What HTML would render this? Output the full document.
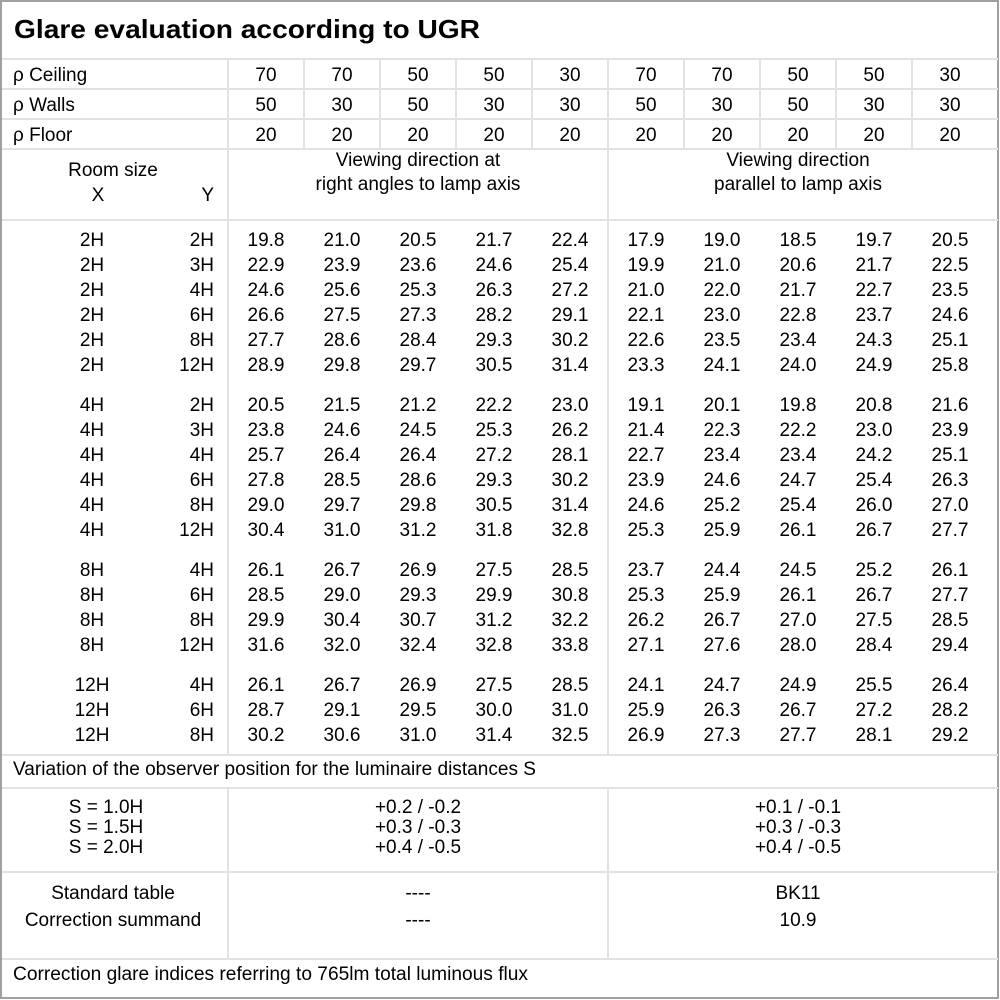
<!DOCTYPE html>
<html><head><meta charset="utf-8"><style>
html,body{margin:0;padding:0;background:#fff}
svg{display:block}
text{font-family:"Liberation Sans","DejaVu Sans",sans-serif;fill:#000}
.c{text-anchor:middle;font-size:19px}
.r{text-anchor:end;font-size:19px}
.l{font-size:19px}
</style></head><body>
<svg width="1000" height="1000" viewBox="0 0 1000 1000">
<rect x="1" y="1" width="997" height="997" fill="#fff" stroke="#a0a0a0" stroke-width="2"/>
<g stroke="#e2e2e2" stroke-width="2">
<line x1="2" y1="59" x2="998" y2="59"/>
<line x1="2" y1="89" x2="998" y2="89"/>
<line x1="2" y1="119" x2="998" y2="119"/>
<line x1="2" y1="149" x2="998" y2="149"/>
<line x1="2" y1="220" x2="998" y2="220"/>
<line x1="2" y1="755" x2="998" y2="755"/>
<line x1="2" y1="788" x2="998" y2="788"/>
<line x1="2" y1="872" x2="998" y2="872"/>
<line x1="2" y1="959" x2="998" y2="959"/>
<line x1="228" y1="59" x2="228" y2="755"/>
<line x1="228" y1="788" x2="228" y2="959"/>
<line x1="608" y1="59" x2="608" y2="755"/>
<line x1="608" y1="788" x2="608" y2="959"/>
<line x1="304" y1="59" x2="304" y2="149"/>
<line x1="380" y1="59" x2="380" y2="149"/>
<line x1="456" y1="59" x2="456" y2="149"/>
<line x1="532" y1="59" x2="532" y2="149"/>
<line x1="684" y1="59" x2="684" y2="149"/>
<line x1="760" y1="59" x2="760" y2="149"/>
<line x1="836" y1="59" x2="836" y2="149"/>
<line x1="912" y1="59" x2="912" y2="149"/>
</g>
<text x="14" y="38" style="font-size:26px;font-weight:bold" textLength="466" lengthAdjust="spacingAndGlyphs">Glare evaluation according to UGR</text>
<text class="l" x="13" y="81">ρ Ceiling</text>
<text class="l" x="13" y="111">ρ Walls</text>
<text class="l" x="13" y="141">ρ Floor</text>
<g class="c">
<text class="c" x="266" y="81">70</text><text class="c" x="342" y="81">70</text><text class="c" x="418" y="81">50</text><text class="c" x="494" y="81">50</text><text class="c" x="570" y="81">30</text><text class="c" x="646" y="81">70</text><text class="c" x="722" y="81">70</text><text class="c" x="798" y="81">50</text><text class="c" x="874" y="81">50</text><text class="c" x="950" y="81">30</text>
<text class="c" x="266" y="111">50</text><text class="c" x="342" y="111">30</text><text class="c" x="418" y="111">50</text><text class="c" x="494" y="111">30</text><text class="c" x="570" y="111">30</text><text class="c" x="646" y="111">50</text><text class="c" x="722" y="111">30</text><text class="c" x="798" y="111">50</text><text class="c" x="874" y="111">30</text><text class="c" x="950" y="111">30</text>
<text class="c" x="266" y="141">20</text><text class="c" x="342" y="141">20</text><text class="c" x="418" y="141">20</text><text class="c" x="494" y="141">20</text><text class="c" x="570" y="141">20</text><text class="c" x="646" y="141">20</text><text class="c" x="722" y="141">20</text><text class="c" x="798" y="141">20</text><text class="c" x="874" y="141">20</text><text class="c" x="950" y="141">20</text>
</g>
<text class="c" x="113" y="176">Room size</text>
<text class="c" x="98" y="201">X</text>
<text class="r" x="214" y="201">Y</text>
<text class="c" x="418" y="166">Viewing direction at</text>
<text class="c" x="418" y="190">right angles to lamp axis</text>
<text class="c" x="798" y="166">Viewing direction</text>
<text class="c" x="798" y="190">parallel to lamp axis</text>
<g id="rows"></g>
<text style="font-size:19px" x="13" y="775" textLength="523" lengthAdjust="spacingAndGlyphs">Variation of the observer position for the luminaire distances S</text>
<text class="c" x="106" y="813">S = 1.0H</text><text class="c" x="106" y="833">S = 1.5H</text><text class="c" x="106" y="853">S = 2.0H</text>
<text class="c" x="418" y="813">+0.2 / -0.2</text><text class="c" x="418" y="833">+0.3 / -0.3</text><text class="c" x="418" y="853">+0.4 / -0.5</text>
<text class="c" x="798" y="813">+0.1 / -0.1</text><text class="c" x="798" y="833">+0.3 / -0.3</text><text class="c" x="798" y="853">+0.4 / -0.5</text>
<text class="c" x="113" y="899">Standard table</text><text class="c" x="113" y="926">Correction summand</text>
<text class="c" x="418" y="899">----</text><text class="c" x="418" y="926">----</text>
<text class="c" x="798" y="899">BK11</text><text class="c" x="798" y="926">10.9</text>
<text style="font-size:19px" x="13" y="980" textLength="515" lengthAdjust="spacingAndGlyphs">Correction glare indices referring to 765lm total luminous flux</text>
</svg>
<script>
var d=[
[239,"2H","2H","19.8 21.0 20.5 21.7 22.4 17.9 19.0 18.5 19.7 20.5"],
[264,"2H","3H","22.9 23.9 23.6 24.6 25.4 19.9 21.0 20.6 21.7 22.5"],
[289,"2H","4H","24.6 25.6 25.3 26.3 27.2 21.0 22.0 21.7 22.7 23.5"],
[314,"2H","6H","26.6 27.5 27.3 28.2 29.1 22.1 23.0 22.8 23.7 24.6"],
[339,"2H","8H","27.7 28.6 28.4 29.3 30.2 22.6 23.5 23.4 24.3 25.1"],
[364,"2H","12H","28.9 29.8 29.7 30.5 31.4 23.3 24.1 24.0 24.9 25.8"],
[404,"4H","2H","20.5 21.5 21.2 22.2 23.0 19.1 20.1 19.8 20.8 21.6"],
[429,"4H","3H","23.8 24.6 24.5 25.3 26.2 21.4 22.3 22.2 23.0 23.9"],
[454,"4H","4H","25.7 26.4 26.4 27.2 28.1 22.7 23.4 23.4 24.2 25.1"],
[479,"4H","6H","27.8 28.5 28.6 29.3 30.2 23.9 24.6 24.7 25.4 26.3"],
[504,"4H","8H","29.0 29.7 29.8 30.5 31.4 24.6 25.2 25.4 26.0 27.0"],
[529,"4H","12H","30.4 31.0 31.2 31.8 32.8 25.3 25.9 26.1 26.7 27.7"],
[569,"8H","4H","26.1 26.7 26.9 27.5 28.5 23.7 24.4 24.5 25.2 26.1"],
[594,"8H","6H","28.5 29.0 29.3 29.9 30.8 25.3 25.9 26.1 26.7 27.7"],
[619,"8H","8H","29.9 30.4 30.7 31.2 32.2 26.2 26.7 27.0 27.5 28.5"],
[644,"8H","12H","31.6 32.0 32.4 32.8 33.8 27.1 27.6 28.0 28.4 29.4"],
[684,"12H","4H","26.1 26.7 26.9 27.5 28.5 24.1 24.7 24.9 25.5 26.4"],
[709,"12H","6H","28.7 29.1 29.5 30.0 31.0 25.9 26.3 26.7 27.2 28.2"],
[734,"12H","8H","30.2 30.6 31.0 31.4 32.5 26.9 27.3 27.7 28.1 29.2"]];
var g=document.getElementById("rows"),ns="http://www.w3.org/2000/svg";
function t(x,y,s,c){var e=document.createElementNS(ns,"text");e.setAttribute("x",x);e.setAttribute("y",y);e.setAttribute("class",c);e.textContent=s;g.appendChild(e);}
d.forEach(function(r){var y=r[0]+7;t(92,y,r[1],"c");t(214,y,r[2],"r");r[3].split(" ").forEach(function(v,i){t(266+76*i,y,v,"c");});});
</script>
</body></html>
